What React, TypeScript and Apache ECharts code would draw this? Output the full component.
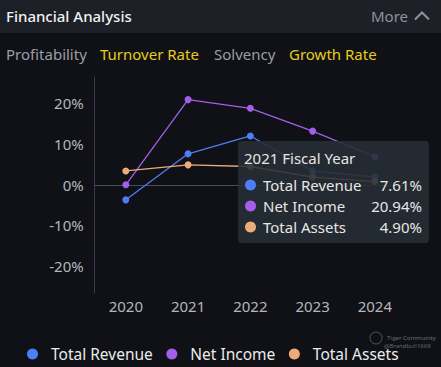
import React, { useEffect, useRef } from "react";
import * as echarts from "echarts";

const years = ["2020", "2021", "2022", "2023", "2024"];
const seriesNames = ["Total Revenue", "Net Income", "Total Assets"];
const totalRevenue = [-3.7, 7.61, 12.0, 3.4, 1.9];
const netIncome = [0.0, 20.94, 18.8, 13.2, 6.9];
const totalAssets = [3.4, 4.9, 4.5, 1.9, 0.8];
const yTicks = [-20, -10, 0, 10, 20];
const tabs = ["Profitability", "Turnover Rate", "Solvency", "Growth Rate"];
const tabActive = [false, true, false, true];
const tooltipIndex = 1;

const colors = ["#4d7ef7", "#a35fe9", "#eeaa78"];

export default function App() {
  const ref = useRef<HTMLDivElement>(null);
  useEffect(() => {
    if (!ref.current) return;
    const chart = echarts.init(ref.current, null, { renderer: "svg" });
    const font = "Noto Sans";
    const allSeries = [totalRevenue, netIncome, totalAssets];
    const tabX = [6, 100, 214, 289];

    const tipRows: any[] = [];
    seriesNames.forEach((n, i) => {
      const cy = 185 + i * 21;
      tipRows.push({ type: "circle", z: 101, shape: { cx: 250.5, cy, r: 5.5 }, style: { fill: colors[i] } });
      tipRows.push({
        type: "text", z: 101, x: 263, y: cy,
        style: { text: n, fill: "#e6e6e6", fontSize: 15, fontFamily: font, verticalAlign: "middle" },
      });
      tipRows.push({
        type: "text", z: 101, x: 422, y: cy,
        style: {
          text: allSeries[i][tooltipIndex].toFixed(2) + "%", fill: "#e6e6e6", fontSize: 15,
          fontFamily: font, align: "right", verticalAlign: "middle",
        },
      });
    });

    chart.setOption({
      animation: false,
      backgroundColor: "#0f1116",
      grid: { left: 94.7, right: 35, top: 77, bottom: 74 },
      xAxis: {
        type: "category",
        data: years,
        boundaryGap: true,
        axisLine: { onZero: true, lineStyle: { color: "#4a4d55", width: 1 } },
        axisTick: { show: false },
        axisLabel: { color: "#b4b6bb", fontSize: 15, fontFamily: font, margin: 5 },
      },
      yAxis: {
        type: "value",
        min: -26.6,
        max: 26.5,
        axisLine: { show: true, lineStyle: { color: "#3a3d45", width: 1 } },
        axisTick: { show: false },
        splitLine: { show: false },
        axisLabel: {
          customValues: yTicks,
          color: "#b4b6bb", fontSize: 15, fontFamily: font, margin: 11,
          formatter: (v: number) => v + "%",
        },
      },
      legend: {
        data: seriesNames,
        left: 22,
        top: 341,
        icon: "circle",
        itemWidth: 11,
        itemHeight: 11,
        itemGap: 13.5,
        textStyle: { color: "#ececec", fontSize: 15.5, fontFamily: font, padding: [0, 0, 0, 8] },
      },
      series: allSeries.map((d, i) => ({
        name: seriesNames[i],
        type: "line",
        data: d,
        symbol: "circle",
        symbolSize: 7,
        lineStyle: { width: 1.3, color: colors[i] },
        itemStyle: { color: colors[i] },
      })),
      graphic: [
        { type: "rect", z: 50, shape: { x: 0, y: 0, width: 441, height: 33 }, style: { fill: "#1d2027" } },
        {
          type: "text", z: 51, x: 6, y: 16,
          style: { text: "Financial Analysis", fill: "#f2f2f2", fontSize: 15, fontWeight: 500, fontFamily: font, verticalAlign: "middle" },
        },
        {
          type: "text", z: 51, x: 371, y: 16,
          style: { text: "More", fill: "#8e929b", fontSize: 15, fontFamily: font, verticalAlign: "middle" },
        },
        {
          type: "polyline", z: 51,
          shape: { points: [[415, 19.5], [422, 12.5], [429, 19.5]] },
          style: { stroke: "#8e929b", lineWidth: 2, fill: null },
        },
        ...tabs.map((t, i) => ({
          type: "text", z: 51, x: tabX[i], y: 54,
          style: {
            text: t, fill: tabActive[i] ? "#e8cb1c" : "#9b9ea5", fontSize: 15, fontFamily: font, verticalAlign: "middle",
          },
        })),
        {
          type: "rect", z: 100,
          shape: { x: 238, y: 141, width: 191, height: 102, r: 4 },
          style: { fill: "rgba(40,45,54,0.88)" },
        },
        {
          type: "text", z: 101, x: 244, y: 158,
          style: { text: years[tooltipIndex] + " Fiscal Year", fill: "#e6e6e6", fontSize: 15, fontFamily: font, verticalAlign: "middle" },
        },
        ...tipRows,
        {
          type: "circle", z: 60, shape: { cx: 376, cy: 338, r: 6 },
          style: { fill: null, stroke: "rgba(180,180,180,0.5)", lineWidth: 0.8 },
        },
        {
          type: "text", z: 60, x: 387, y: 338,
          style: { text: "Tiger Community", fill: "rgba(180,180,180,0.6)", fontSize: 6, fontFamily: font, verticalAlign: "middle" },
        },
        {
          type: "text", z: 60, x: 384, y: 346,
          style: { text: "@Brandbull1669", fill: "rgba(180,180,180,0.55)", fontSize: 6, fontFamily: font, verticalAlign: "middle" },
        },
      ],
    });
    return () => chart.dispose();
  }, []);
  return (
    <div style={{ position: "fixed", left: 0, top: 0, width: 441, height: 367, background: "#0f1116" }}>
      <div ref={ref} style={{ width: 441, height: 367 }} />
    </div>
  );
}
